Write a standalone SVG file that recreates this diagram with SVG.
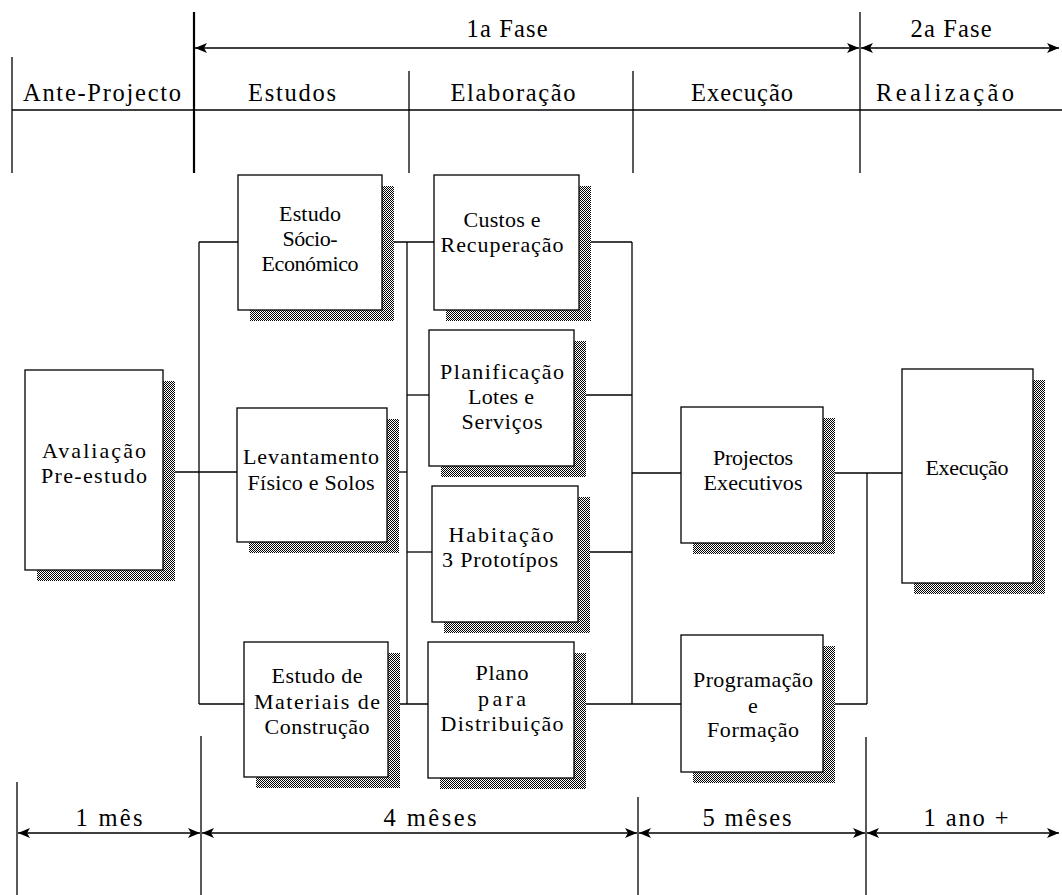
<svg xmlns="http://www.w3.org/2000/svg" width="1062" height="895" viewBox="0 0 1062 895">
<style>
.ln{stroke:#000;stroke-width:1.3;fill:none}
.thk{stroke:#000;stroke-width:2.2;fill:none}
.box{fill:#fff;stroke:#000;stroke-width:1.3}
.sh{fill:url(#dither)}
.hd{font-family:"Liberation Serif",serif;font-size:24.5px;fill:#000;text-anchor:middle}
.bt{font-family:"Liberation Serif",serif;font-size:22px;fill:#000;text-anchor:middle}
</style>
<defs>
<pattern id="dither" patternUnits="userSpaceOnUse" width="2" height="2">
<rect width="2" height="2" fill="#fff"/>
<rect width="1" height="1" fill="#000"/>
<rect x="1" y="1" width="1" height="1" fill="#000"/>
</pattern>
<marker id="ah" viewBox="0 0 12 10" refX="12" refY="5" markerWidth="12" markerHeight="10" markerUnits="userSpaceOnUse" orient="auto-start-reverse">
<path d="M0,0 L12,5 L0,10 L3,5 z" fill="#000"/>
</marker>
</defs>

<g id="header">
<line class="ln" x1="12" y1="57" x2="12" y2="173"/>
<line class="thk" x1="194" y1="12" x2="194" y2="173"/>
<line class="ln" x1="409" y1="71" x2="409" y2="173"/>
<line class="ln" x1="633" y1="71" x2="633" y2="173"/>
<line class="ln" x1="860" y1="12" x2="860" y2="173"/>
<line class="ln" x1="12" y1="110" x2="1062" y2="110"/>
<line class="ln" x1="195" y1="48" x2="859" y2="48" marker-start="url(#ah)" marker-end="url(#ah)"/>
<line class="ln" x1="861" y1="48" x2="1059" y2="48" marker-start="url(#ah)" marker-end="url(#ah)"/>
<text class="hd" x="507" y="37" textLength="81" lengthAdjust="spacing">1a Fase</text>
<text class="hd" x="951" y="37" textLength="81" lengthAdjust="spacing">2a Fase</text>
<text class="hd" x="102" y="101" textLength="158" lengthAdjust="spacing">Ante-Projecto</text>
<text class="hd" x="292" y="101" textLength="88" lengthAdjust="spacing">Estudos</text>
<text class="hd" x="513" y="101" textLength="125" lengthAdjust="spacing">Elaboração</text>
<text class="hd" x="742" y="101" textLength="102" lengthAdjust="spacing">Execução</text>
<text class="hd" x="945" y="101" textLength="138" lengthAdjust="spacing">Realização</text>
</g>

<g id="footer">
<line class="ln" x1="17" y1="782" x2="17" y2="895"/>
<line class="ln" x1="201" y1="736" x2="201" y2="895"/>
<line class="ln" x1="638" y1="797" x2="638" y2="895"/>
<line class="ln" x1="866" y1="737" x2="866" y2="895"/>
<line class="ln" x1="18" y1="833" x2="200" y2="833" marker-start="url(#ah)" marker-end="url(#ah)"/>
<line class="ln" x1="202" y1="833" x2="637" y2="833" marker-start="url(#ah)" marker-end="url(#ah)"/>
<line class="ln" x1="639" y1="833" x2="865" y2="833" marker-start="url(#ah)" marker-end="url(#ah)"/>
<line class="ln" x1="867" y1="833" x2="1059" y2="833" marker-start="url(#ah)" marker-end="url(#ah)"/>
<text class="hd" x="109" y="826" textLength="67" lengthAdjust="spacing">1 mês</text>
<text class="hd" x="430" y="826" textLength="93" lengthAdjust="spacing">4 mêses</text>
<text class="hd" x="747" y="826" textLength="89" lengthAdjust="spacing">5 mêses</text>
<text class="hd" x="966" y="826" textLength="85" lengthAdjust="spacing">1 ano +</text>
</g>

<g id="connectors">
<line class="ln" x1="199" y1="242" x2="199" y2="704"/>
<line class="ln" x1="199" y1="242" x2="238" y2="242"/>
<line class="ln" x1="163" y1="472" x2="237" y2="472"/>
<line class="ln" x1="199" y1="704" x2="244" y2="704"/>
<line class="ln" x1="407" y1="242" x2="407" y2="704"/>
<line class="ln" x1="382" y1="242" x2="434" y2="242"/>
<line class="ln" x1="407" y1="395" x2="429" y2="395"/>
<line class="ln" x1="387" y1="472" x2="407" y2="472"/>
<line class="ln" x1="407" y1="552" x2="432" y2="552"/>
<line class="ln" x1="388" y1="704" x2="428" y2="704"/>
<line class="ln" x1="632" y1="242" x2="632" y2="704"/>
<line class="ln" x1="579" y1="242" x2="632" y2="242"/>
<line class="ln" x1="574" y1="395" x2="632" y2="395"/>
<line class="ln" x1="578" y1="552" x2="632" y2="552"/>
<line class="ln" x1="574" y1="704" x2="681" y2="704"/>
<line class="ln" x1="632" y1="473" x2="681" y2="473"/>
<line class="ln" x1="867" y1="473" x2="867" y2="704"/>
<line class="ln" x1="823" y1="473" x2="902" y2="473"/>
<line class="ln" x1="823" y1="704" x2="867" y2="704"/>
</g>

<g id="n-avaliacao">
<rect class="sh" x="37" y="381" width="138" height="200"/>
<rect class="box" x="25" y="370" width="138" height="200"/>
<text class="bt" x="94" y="458" textLength="104" lengthAdjust="spacing">Avaliação</text>
<text class="bt" x="94" y="483" textLength="106" lengthAdjust="spacing">Pre-estudo</text>
</g>

<g id="n-socio">
<rect class="sh" x="250" y="186" width="144" height="135"/>
<rect class="box" x="238" y="175" width="144" height="135"/>
<text class="bt" x="310" y="221" textLength="62" lengthAdjust="spacing">Estudo</text>
<text class="bt" x="310" y="246" textLength="55" lengthAdjust="spacing">Sócio-</text>
<text class="bt" x="310" y="271" textLength="97" lengthAdjust="spacing">Económico</text>
</g>

<g id="n-levantamento">
<rect class="sh" x="249" y="419" width="150" height="134"/>
<rect class="box" x="237" y="408" width="150" height="134"/>
<text class="bt" x="311" y="464" textLength="136" lengthAdjust="spacing">Levantamento</text>
<text class="bt" x="311" y="490" textLength="127" lengthAdjust="spacing">Físico e Solos</text>
</g>

<g id="n-materiais">
<rect class="sh" x="256" y="653" width="144" height="135"/>
<rect class="box" x="244" y="642" width="144" height="135"/>
<text class="bt" x="317" y="683" textLength="91" lengthAdjust="spacing">Estudo de</text>
<text class="bt" x="317" y="709" textLength="126" lengthAdjust="spacing">Materiais de</text>
<text class="bt" x="317" y="734" textLength="105" lengthAdjust="spacing">Construção</text>
</g>

<g id="n-custos">
<rect class="sh" x="446" y="186" width="145" height="135"/>
<rect class="box" x="434" y="175" width="145" height="135"/>
<text class="bt" x="502" y="227" textLength="77" lengthAdjust="spacing">Custos e</text>
<text class="bt" x="502" y="252" textLength="123" lengthAdjust="spacing">Recuperação</text>
</g>

<g id="n-planificacao">
<rect class="sh" x="441" y="341" width="145" height="136"/>
<rect class="box" x="429" y="330" width="145" height="136"/>
<text class="bt" x="502" y="379" textLength="124" lengthAdjust="spacing">Planificação</text>
<text class="bt" x="501" y="404" textLength="66" lengthAdjust="spacing">Lotes e</text>
<text class="bt" x="502" y="429" textLength="81" lengthAdjust="spacing">Serviços</text>
</g>

<g id="n-habitacao">
<rect class="sh" x="444" y="497" width="146" height="136"/>
<rect class="box" x="432" y="486" width="146" height="136"/>
<text class="bt" x="501" y="542" textLength="105" lengthAdjust="spacing">Habitação</text>
<text class="bt" x="500" y="567" textLength="116" lengthAdjust="spacing">3 Prototípos</text>
</g>

<g id="n-plano">
<rect class="sh" x="440" y="653" width="146" height="136"/>
<rect class="box" x="428" y="642" width="146" height="136"/>
<text class="bt" x="502" y="680" textLength="53" lengthAdjust="spacing">Plano</text>
<text class="bt" x="502" y="706" textLength="48" lengthAdjust="spacing">para</text>
<text class="bt" x="502" y="731" textLength="123" lengthAdjust="spacing">Distribuição</text>
</g>

<g id="n-projectos">
<rect class="sh" x="693" y="418" width="142" height="136"/>
<rect class="box" x="681" y="407" width="142" height="136"/>
<text class="bt" x="753" y="465" textLength="80" lengthAdjust="spacing">Projectos</text>
<text class="bt" x="753" y="490" textLength="99" lengthAdjust="spacing">Executivos</text>
</g>

<g id="n-programacao">
<rect class="sh" x="693" y="646" width="142" height="137"/>
<rect class="box" x="681" y="635" width="142" height="137"/>
<text class="bt" x="753" y="687" textLength="120" lengthAdjust="spacing">Programação</text>
<text class="bt" x="753" y="713">e</text>
<text class="bt" x="753" y="737" textLength="92" lengthAdjust="spacing">Formação</text>
</g>

<g id="n-execucao">
<rect class="sh" x="914" y="380" width="131" height="214"/>
<rect class="box" x="902" y="369" width="131" height="214"/>
<text class="bt" x="967" y="475" textLength="83" lengthAdjust="spacing">Execução</text>
</g>
</svg>
